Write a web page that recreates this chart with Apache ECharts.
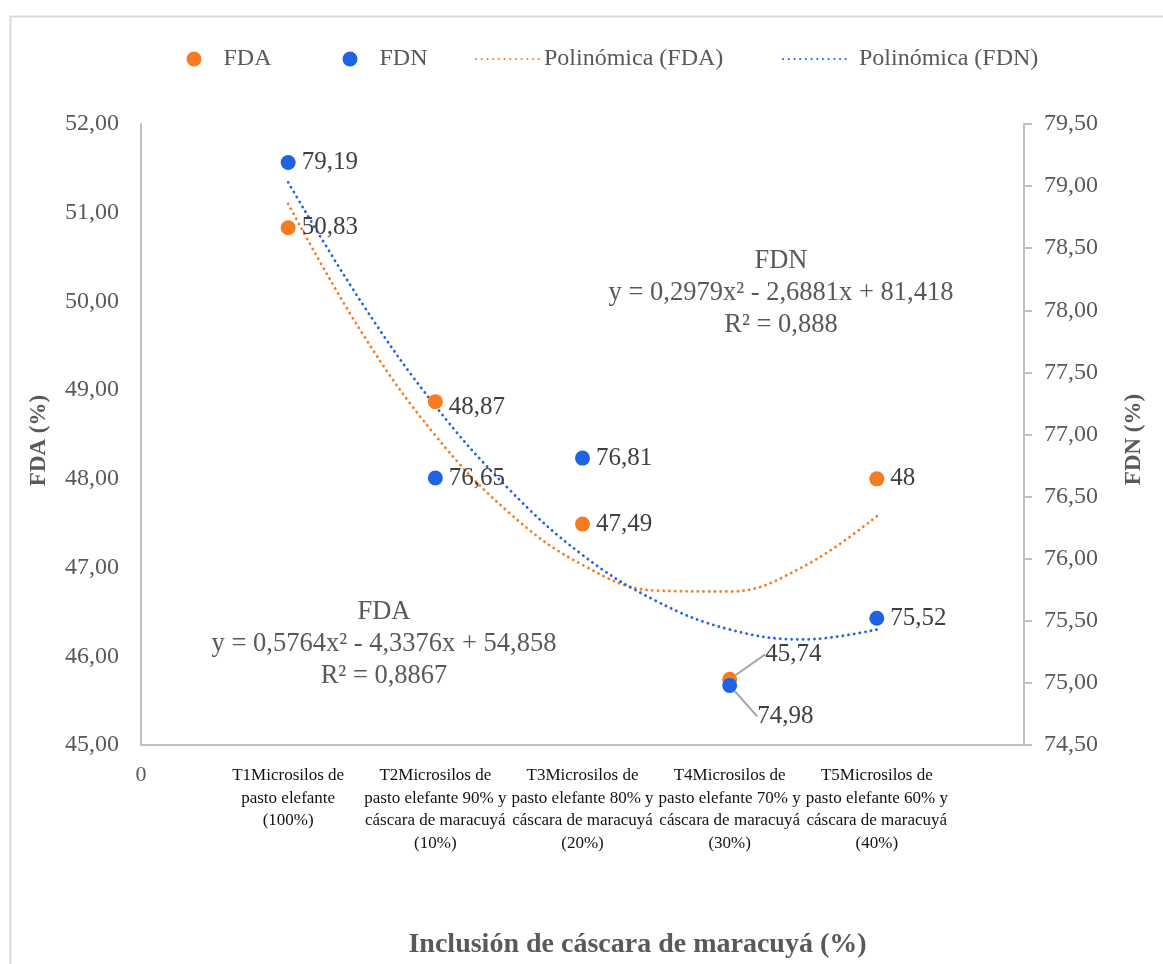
<!DOCTYPE html>
<html>
<head>
<meta charset="utf-8">
<script src="https://cdn.jsdelivr.net/npm/echarts@6/dist/echarts.min.js"></script>
<style>html,body{margin:0;padding:0;background:#fff}#c{width:1163px;height:964px}</style>
</head>
<body>
<div id="c"></div>
<script>
const categories = [
  'T1Microsilos de\npasto elefante\n(100%)',
  'T2Microsilos de\npasto elefante 90% y\ncáscara de maracuyá\n(10%)',
  'T3Microsilos de\npasto elefante 80% y\ncáscara de maracuyá\n(20%)',
  'T4Microsilos de\npasto elefante 70% y\ncáscara de maracuyá\n(30%)',
  'T5Microsilos de\npasto elefante 60% y\ncáscara de maracuyá\n(40%)'
];
const xPositions = [1, 2, 3, 4, 5];
const fdaValues = [50.83, 48.87, 47.49, 45.74, 48];
const fdnValues = [79.19, 76.65, 76.81, 74.98, 75.52];
// trendline values
const trendX = [1, 1.5, 2, 2.5, 3, 3.5, 4, 4.5, 5];
const fdaTrend = [51.10, 49.65, 48.49, 47.62, 47.03, 46.74, 46.73, 47.01, 47.58];
const fdnTrend = [79.03, 78.06, 77.23, 76.56, 76.03, 75.66, 75.43, 75.35, 75.43];
const leftTicks = {min: 45, max: 52, interval: 1};
const rightTicks = {min: 74.5, max: 79.5, interval: 0.5};

const FONT = 'Liberation Serif';
const GRAY = '#595959';
const ORANGE = '#F57C22';
const BLUE = '#1F63E3';
const fmt = v => String(v).replace('.', ',');
const fmt2 = v => v.toFixed(2).replace('.', ',');

function pts(xs, ys) { return xs.map((x, i) => [x, ys[i]]); }

function legendItem(name, left, w, padLeft, hideSymbol) {
  return {
    left: left, top: 47, padding: 0,
    itemWidth: w, itemHeight: 15,
    textStyle: {fontFamily: FONT, fontSize: 24, color: GRAY, padding: [0, 0, 0, padLeft]},
    data: [hideSymbol ? {name: name, itemStyle: {opacity: 0}} : name]
  };
}

const chart = echarts.init(document.getElementById('c'));
chart.setOption({
  backgroundColor: '#fff',
  animation: false,
  textStyle: {fontFamily: FONT},
  legend: [
    legendItem('FDA', 186.5, 15, 17, false),
    legendItem('FDN', 342.5, 15, 17, false),
    legendItem('Polinómica (FDA)', 475, 63, 0, true),
    legendItem('Polinómica (FDN)', 782, 63, 8, true)
  ],
  grid: {left: 141, right: 139, top: 124, bottom: 219},
  xAxis: {
    type: 'value', min: 0, max: 6, interval: 1,
    splitLine: {show: false},
    axisLine: {show: true, lineStyle: {color: '#bfbfbf', width: 2}},
    axisTick: {show: false},
    axisLabel: {
      margin: 19,
      formatter: v => v === 0 ? '{z|0}' : (v >= 1 && v <= 5 ? '{c|' + categories[v - 1].split('\n').join('}\n{c|') + '}' : ''),
      rich: {
        z: {fontFamily: FONT, fontSize: 22, color: GRAY, lineHeight: 22.5},
        c: {fontFamily: FONT, fontSize: 17, color: '#111', lineHeight: 22.7}
      },
      verticalAlign: 'top'
    },
    name: 'Inclusión de cáscara de maracuyá (%)',
    nameLocation: 'middle', nameGap: 186,
    nameTextStyle: {fontFamily: FONT, fontSize: 28, fontWeight: 'bold', color: GRAY, padding: [0, 0, 0, 110]}
  },
  yAxis: [{
    type: 'value', min: leftTicks.min, max: leftTicks.max, interval: leftTicks.interval,
    splitLine: {show: false},
    axisLine: {show: true, lineStyle: {color: '#bfbfbf', width: 2}},
    axisTick: {show: false},
    axisLabel: {margin: 22, fontFamily: FONT, fontSize: 24, color: GRAY, formatter: fmt2},
    name: 'FDA (%)', nameLocation: 'middle', nameRotate: 90, nameGap: 90,
    nameTextStyle: {fontFamily: FONT, fontSize: 23, fontWeight: 'bold', color: GRAY, padding: [0, 12, 0, 0]}
  }, {
    type: 'value', min: rightTicks.min, max: rightTicks.max, interval: rightTicks.interval,
    position: 'right',
    splitLine: {show: false},
    axisLine: {show: true, lineStyle: {color: '#bfbfbf', width: 2}},
    axisTick: {show: true, inside: false, length: 8, lineStyle: {color: '#bfbfbf', width: 2}},
    axisLabel: {margin: 20, fontFamily: FONT, fontSize: 24, color: GRAY, formatter: fmt2},
    name: 'FDN (%)', nameLocation: 'middle', nameRotate: 90, nameGap: 99,
    nameTextStyle: {fontFamily: FONT, fontSize: 23, fontWeight: 'bold', color: GRAY, padding: [0, 10, 0, 0]}
  }],
  series: [{
    name: 'Polinómica (FDA)', type: 'line', yAxisIndex: 0,
    data: pts(trendX, fdaTrend), smooth: 0.4, symbol: 'none',
    lineStyle: {color: ORANGE, width: 2.8, type: [0.1, 5.6], cap: 'round'},
    itemStyle: {color: ORANGE}, z: 2
  }, {
    name: 'Polinómica (FDN)', type: 'line', yAxisIndex: 1,
    data: pts(trendX, fdnTrend), smooth: 0.4, symbol: 'none',
    lineStyle: {color: BLUE, width: 2.8, type: [0.1, 5.6], cap: 'round'},
    itemStyle: {color: BLUE}, z: 2
  }, {
    name: 'FDA', type: 'scatter', yAxisIndex: 0,
    data: pts(xPositions, fdaValues).map((p, i) => i === 3 ? {value: p, labelLine: {show: true}} : p),
    symbol: 'circle', symbolSize: 15,
    itemStyle: {color: ORANGE, opacity: 1},
    label: {show: true, position: 'right', distance: 6, fontFamily: FONT, fontSize: 25, color: '#404040',
      formatter: p => fmt(p.value[1])},
    labelLine: {lineStyle: {color: '#a6a6a6', width: 2}},
    labelLayout: p => p.dataIndex === 3 ? {dx: 22, dy: -25} : (p.dataIndex === 1 ? {dy: 6} : {}),
    z: 3
  }, {
    name: 'FDN', type: 'scatter', yAxisIndex: 1,
    data: pts(xPositions, fdnValues).map((p, i) => i === 3 ? {value: p, labelLine: {show: true}} : p),
    symbol: 'circle', symbolSize: 15,
    itemStyle: {color: BLUE, opacity: 1},
    label: {show: true, position: 'right', distance: 6, fontFamily: FONT, fontSize: 25, color: '#404040',
      formatter: p => fmt(p.value[1])},
    labelLine: {lineStyle: {color: '#a6a6a6', width: 2}},
    labelLayout: p => p.dataIndex === 3 ? {dx: 14, dy: 31} : {},
    z: 4
  }],
  graphic: [{
    type: 'rect', left: 8, top: 14, z: -10,
    shape: {width: 1170, height: 970},
    style: {fill: 'none', stroke: '#d9d9d9', lineWidth: 2}
  }, {
    type: 'text', x: 781, y: 293, z: 10,
    style: {text: 'FDN\ny = 0,2979x² - 2,6881x + 81,418\nR² = 0,888', fill: GRAY, font: '26.5px "Liberation Serif"',
      align: 'center', verticalAlign: 'middle', lineHeight: 32}
  }, {
    type: 'text', x: 384, y: 644, z: 10,
    style: {text: 'FDA\ny = 0,5764x² - 4,3376x + 54,858\nR² = 0,8867', fill: GRAY, font: '26.5px "Liberation Serif"',
      align: 'center', verticalAlign: 'middle', lineHeight: 32}
  }]
});
</script>
</body>
</html>
